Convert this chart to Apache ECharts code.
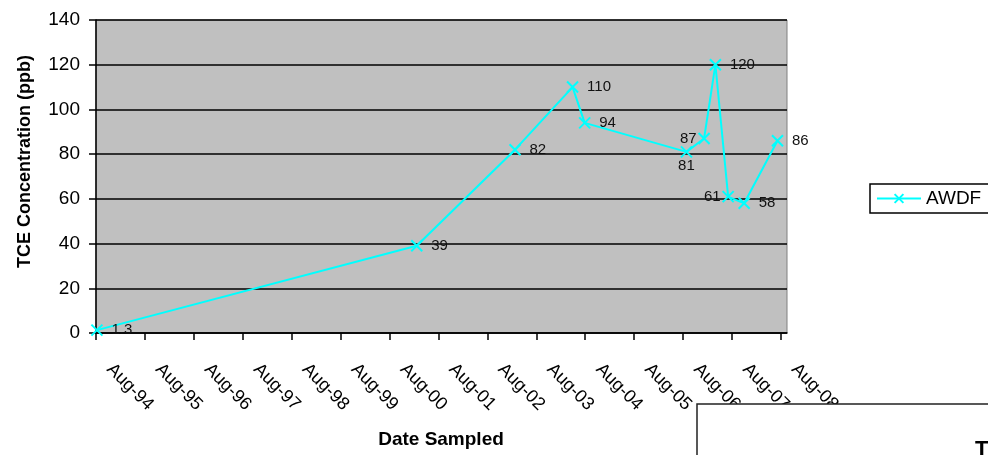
<!DOCTYPE html>
<html>
<head>
<meta charset="utf-8">
<style>
  html, body { margin: 0; padding: 0; background: #ffffff; }
  #chart { width: 988px; height: 455px; }
</style>
<script src="https://cdn.jsdelivr.net/npm/echarts@6/dist/echarts.min.js"></script>
</head>
<body>
<div id="chart"></div>
<script>
// Sampling dates and TCE results for well AWDF
const sampleDates = ['1994-08-08', '2001-02-20', '2003-02-23', '2004-04-28', '2004-07-28',
                     '2006-08-27', '2007-01-06', '2007-03-30', '2007-07-03', '2007-11-01', '2008-07-06'];
const tceValues = [1.3, 39, 82, 110, 94, 81, 87, 120, 61, 58, 86];
const seriesName = 'AWDF';

// Date axis: one labelled tick each August
const xTickLabels = ['Aug-94', 'Aug-95', 'Aug-96', 'Aug-97', 'Aug-98', 'Aug-99', 'Aug-00', 'Aug-01',
                     'Aug-02', 'Aug-03', 'Aug-04', 'Aug-05', 'Aug-06', 'Aug-07', 'Aug-08'];
const yMin = 0, yMax = 140, yStep = 20;

// Axis origin is August 1994; positions are measured in months from there
const ORIGIN_YEAR = 1994, ORIGIN_MONTH = 8;
function monthsFromOrigin(s) {
  const [y, m, d] = s.split('-').map(Number);
  const daysInMonth = new Date(y, m, 0).getDate();
  return (y - ORIGIN_YEAR) * 12 + (m - ORIGIN_MONTH) + (d - 1) / daysInMonth;
}
const tickMonths = xTickLabels.map((_, i) => i * 12);

// Labels that sit on a different side of their marker
const labelSide = { 5: 'bottom', 6: 'left', 8: 'left' };

const points = sampleDates.map((d, i) => {
  const p = { value: [monthsFromOrigin(d), tceValues[i]] };
  if (labelSide[i]) p.label = { position: labelSide[i], distance: labelSide[i] === 'bottom' ? 0 : 1 };
  return p;
});

const FONT = '"Liberation Sans", Arial, sans-serif';
const CYAN = '#00FFFF';
const crossMark = 'path://M0,0L10,10M10,0L0,10';

const chart = echarts.init(document.getElementById('chart'), null, { renderer: 'canvas' });
chart.setOption({
  animation: false,
  backgroundColor: '#ffffff',
  grid: {
    left: 96, right: 201, top: 20, bottom: 122,
    show: true, backgroundColor: '#C0C0C0', borderColor: '#808080', borderWidth: 1
  },
  xAxis: {
    type: 'value',
    min: 0, max: 169.5,
    axisLine: { show: true, onZero: false, lineStyle: { color: '#000', width: 1.5 } },
    axisTick: { show: true, length: 7, lineStyle: { color: '#000', width: 1.5 }, customValues: tickMonths },
    axisLabel: {
      customValues: tickMonths,
      formatter: v => xTickLabels[Math.round(v / 12)] || '',
      rotate: -45, margin: 20, padding: [0, 0, 0, 19],
      fontFamily: FONT, fontSize: 18, color: '#000'
    },
    splitLine: { show: false }
  },
  yAxis: {
    type: 'value',
    min: yMin, max: yMax, interval: yStep,
    axisLine: { show: true, lineStyle: { color: '#000', width: 1.5 } },
    axisTick: { show: true, length: 7, lineStyle: { color: '#000', width: 1.5 } },
    axisLabel: { margin: 16, fontFamily: FONT, fontSize: 19, color: '#000' },
    splitLine: { show: true, lineStyle: { color: '#000', width: 1.5 } }
  },
  legend: {
    data: [seriesName],
    left: 870, top: 184,
    orient: 'vertical',
    padding: [5, 14, 5, 6],
    borderColor: '#000', borderWidth: 1.5, backgroundColor: '#fff',
    itemWidth: 44, itemHeight: 11, itemGap: 0,
    textStyle: { fontFamily: FONT, fontSize: 19, color: '#000' }
  },
  series: [{
    name: seriesName,
    type: 'line',
    data: points,
    symbol: crossMark,
    symbolSize: 11,
    lineStyle: { color: CYAN, width: 2 },
    itemStyle: { color: CYAN, borderColor: CYAN, borderWidth: 2 },
    label: {
      show: true, position: 'right', distance: 8,
      formatter: p => String(p.value[1]),
      fontFamily: FONT, fontSize: 15, color: '#111'
    },
    z: 3
  }],
  graphic: [
    {
      type: 'text', x: 25, y: 161.5, rotation: Math.PI / 2,
      style: { text: 'TCE Concentration (ppb)', fontFamily: FONT, fontSize: 18, fontWeight: 'bold',
               fill: '#000', align: 'center', verticalAlign: 'middle' }
    },
    {
      type: 'text', x: 441, y: 440,
      style: { text: 'Date Sampled', fontFamily: FONT, fontSize: 19, fontWeight: 'bold',
               fill: '#000', align: 'center', verticalAlign: 'middle' }
    },
    {
      type: 'rect', z: 100,
      shape: { x: 697, y: 404, width: 320, height: 80 },
      style: { fill: '#fff', stroke: '#222', lineWidth: 1.5 }
    },
    {
      type: 'text', z: 101, x: 975, y: 439,
      style: { text: 'T', fontFamily: FONT, fontSize: 22, fontWeight: 'bold', fill: '#000',
               align: 'left', verticalAlign: 'top' }
    }
  ]
});
</script>
</body>
</html>
